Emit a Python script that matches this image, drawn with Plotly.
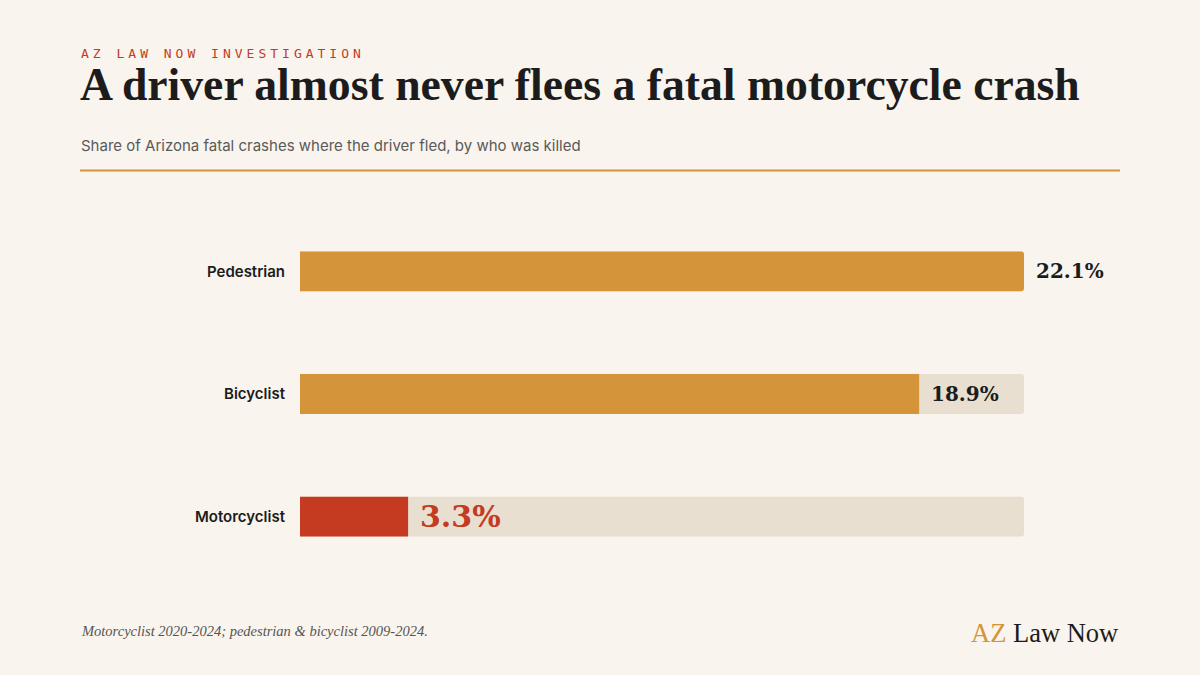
import plotly.graph_objects as go

# data
categories = ["Pedestrian", "Bicyclist", "Motorcyclist"]
fled_share = [22.1, 18.9, 3.3]
value_labels = ["22.1%", "18.9%", "3.3%"]
track_max = 22.1

BG = "#f9f4ed"
ORANGE = "#d4943a"
RED = "#c43b22"
TRACK = "#e8dfd0"
INK = "#1c1c1c"

bar_colors = [ORANGE, ORANGE, RED]

# margins so the bars land where the reference has them
L, R, T, B = 300, 176, 209.5, 96.5
W, H = 1200, 675
pw, ph = W - L - R, H - T - B


def px_x(x):
    # pixel x on the page -> paper coord
    return (x - L) / pw


def px_y(y):
    # pixel y from the top of the page -> paper coord
    return (H - y - B) / ph


fig = go.Figure()

# light track behind each bar
fig.add_trace(go.Bar(
    y=categories, x=[track_max] * len(categories), orientation="h",
    marker=dict(color=TRACK, line=dict(width=0)), width=0.325,
    hoverinfo="skip", showlegend=False,
))
fig.add_trace(go.Bar(
    y=categories, x=fled_share, orientation="h",
    marker=dict(color=bar_colors, line=dict(width=0)), width=0.325,
    showlegend=False,
))

# value labels just past the end of each bar
for cat, val, lab in zip(categories, fled_share, value_labels):
    big = cat == "Motorcyclist"
    fig.add_annotation(
        x=val, y=cat, xref="x", yref="y", text="<b>" + lab + "</b>",
        showarrow=False, xanchor="left", yanchor="middle", xshift=10,
        font=dict(family="DejaVu Serif", size=30 if big else 20,
                  color=RED if big else INK),
    )

# header
fig.add_annotation(
    x=px_x(79), y=px_y(53), xref="paper", yref="paper",
    text='<span style="letter-spacing:4px">AZ LAW NOW INVESTIGATION</span>',
    showarrow=False, xanchor="left", yanchor="middle",
    font=dict(family="DejaVu Sans Mono", size=13, color=RED),
)
fig.add_annotation(
    x=px_x(78), y=px_y(84), xref="paper", yref="paper",
    text="<b>A driver almost never flees a fatal motorcycle crash</b>",
    showarrow=False, xanchor="left", yanchor="middle",
    font=dict(family="Liberation Serif", size=45.7, color=INK),
)
fig.add_annotation(
    x=px_x(79), y=px_y(145), xref="paper", yref="paper",
    text="Share of Arizona fatal crashes where the driver fled, by who was killed",
    showarrow=False, xanchor="left", yanchor="middle",
    font=dict(family="Inter", size=15, color="#5a5a5a"),
)
fig.add_shape(type="line", xref="paper", yref="paper",
              x0=px_x(80), x1=px_x(1120), y0=px_y(170), y1=px_y(170),
              line=dict(color=ORANGE, width=2))

# footer
fig.add_annotation(
    x=px_x(79), y=px_y(632), xref="paper", yref="paper",
    text="<i>Motorcyclist 2020-2024; pedestrian &amp; bicyclist 2009-2024.</i>",
    showarrow=False, xanchor="left", yanchor="middle",
    font=dict(family="Liberation Serif", size=14.5, color="#555555"),
)
fig.add_annotation(
    x=px_x(1121), y=px_y(634), xref="paper", yref="paper",
    text='<span style="color:%s">AZ</span> Law Now' % ORANGE,
    showarrow=False, xanchor="right", yanchor="middle",
    font=dict(family="Liberation Serif", size=26.5, color=INK),
)

fig.update_layout(
    width=W, height=H,
    paper_bgcolor=BG, plot_bgcolor=BG,
    margin=dict(l=L, r=R, t=T, b=B),
    barmode="overlay", barcornerradius=3,
    xaxis=dict(range=[0, track_max], visible=False, fixedrange=True),
    yaxis=dict(categoryorder="array", categoryarray=categories[::-1],
               range=[-0.5, 2.5], showgrid=False, zeroline=False,
               showline=False, ticks="", ticklabelstandoff=14, fixedrange=True,
               tickfont=dict(family="Inter", size=15, color=INK, weight=600)),
    font=dict(family="Inter"),
)

fig.write_html("out.html", config={"displayModeBar": False},
               post_script="document.body.style.margin='0';")
